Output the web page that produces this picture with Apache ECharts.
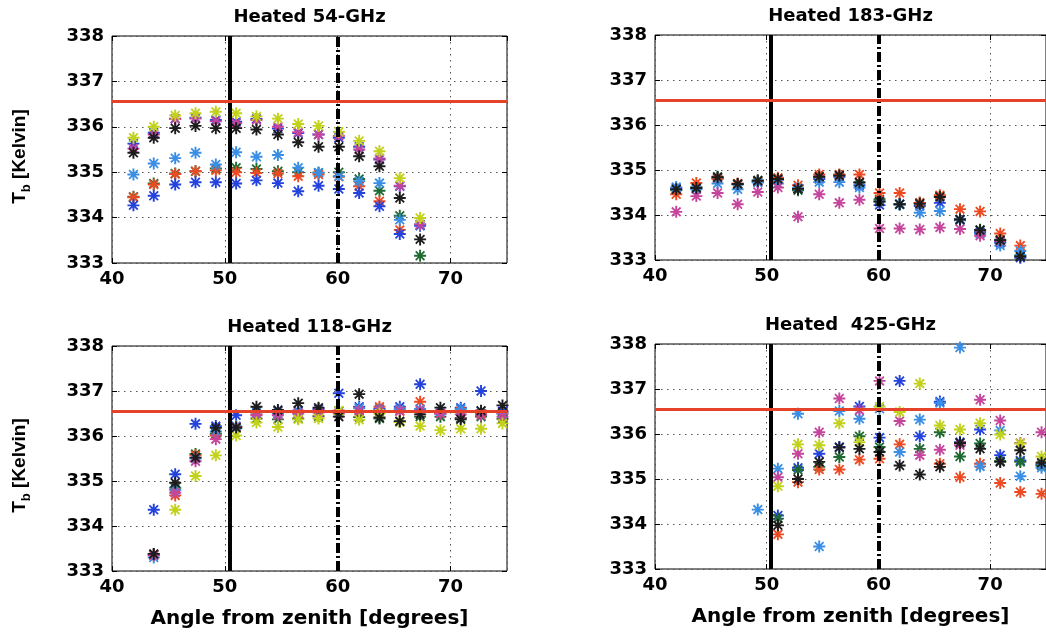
<!DOCTYPE html>
<html><head><meta charset="utf-8">
<script src="https://cdn.jsdelivr.net/npm/echarts@6/dist/echarts.min.js"></script>
<style>html,body{margin:0;padding:0;background:#fff}#c{width:1046px;height:632px}</style>
</head><body><div id="c"></div>
<script>
// ---- data ----
const ANGLES = [41.9,43.7,45.6,47.4,49.2,51.0,52.8,54.7,56.5,58.3,60.1,61.9,63.7,65.5,67.3,69.1,70.9,72.7,74.6];
const TITLES = ['Heated 54-GHz','Heated 183-GHz','Heated 118-GHz','Heated  425-GHz'];
const X_NAME = 'Angle from zenith [degrees]';
const Y_NAME = 'T_b [Kelvin]';
const REF_TB = 336.56;      // horizontal reference line (K)
const SOLID_ANGLE = 50.4;   // solid vertical line (deg)
const DASH_ANGLE = 60;      // dash-dot vertical line (deg)
const _ = null;

// 54 GHz
const b54  = [335.63,335.87,336.18,336.20,336.15,336.11,336.17,335.96,335.86,335.83,335.76,335.56,335.28,334.69,333.82,_,_,_,_];
const g54  = [334.46,334.75,334.97,335.02,335.08,335.10,335.07,335.02,335.00,334.99,335.00,334.85,334.59,334.04,333.16,_,_,_,_];
const r54  = [334.45,334.73,334.96,335.02,335.04,335.00,334.98,334.97,334.91,334.95,334.90,334.69,334.36,333.73,_,_,_,_,_];
const c54  = [334.95,335.19,335.31,335.43,335.17,335.44,335.34,335.38,335.10,334.99,334.91,334.80,334.76,333.95,333.85,_,_,_,_];
const m54  = [335.52,335.83,336.17,336.18,336.12,336.08,336.15,336.00,335.88,335.83,335.80,335.50,335.30,334.70,333.85,_,_,_,_];
const y54  = [335.76,336.00,336.25,336.30,336.33,336.30,336.23,336.18,336.06,336.02,335.89,335.69,335.46,334.87,333.99,_,_,_,_];
const k54  = [335.43,335.76,335.97,336.02,335.97,335.97,335.94,335.83,335.66,335.56,335.56,335.35,335.13,334.43,333.52,_,_,_,_];
const b54b = [334.27,334.48,334.73,334.78,334.78,334.75,334.82,334.76,334.58,334.70,334.63,334.54,334.25,333.64,_,_,_,_,_];

// 183 GHz
const b183 = [334.59,334.59,334.82,334.68,334.74,334.78,334.59,334.80,334.85,334.66,334.22,334.24,334.20,334.27,333.90,333.62,333.38,333.05,_];
const g183 = [334.55,334.62,334.85,334.68,334.77,334.80,334.55,334.85,334.88,334.73,334.35,334.24,334.27,334.42,333.90,333.67,333.45,333.10,_];
const r183 = [334.46,334.71,334.80,334.70,334.75,334.83,334.66,334.90,334.90,334.90,334.49,334.49,334.27,334.44,334.13,334.08,333.59,333.32,_];
const c183 = [334.62,334.57,334.70,334.57,334.72,334.70,334.60,334.73,334.73,334.61,334.30,334.24,334.05,334.09,333.88,333.58,333.32,333.20,_];
const m183 = [334.07,334.42,334.49,334.24,334.51,334.61,333.96,334.46,334.27,334.34,333.70,333.70,333.68,333.72,333.69,333.54,333.42,_,_];
const y183 = [_,_,_,_,_,_,_,_,_,_,_,_,_,_,_,_,_,_,_];
const k183 = [334.57,334.60,334.84,334.69,334.76,334.80,334.58,334.85,334.88,334.72,334.30,334.24,334.25,334.40,333.90,333.66,333.44,333.08,_];
const b183b= [_,_,_,_,_,_,_,_,_,_,_,_,_,_,_,_,_,_,_];

// 118 GHz
const b118 = [_,334.36,335.15,336.27,336.22,336.46,336.55,336.55,336.56,336.60,336.95,336.65,336.60,336.65,337.15,336.50,336.63,337.00,336.55];
const g118 = [_,333.37,334.85,335.60,336.05,336.17,336.39,336.37,336.39,336.44,336.56,336.42,336.39,336.31,336.43,336.43,336.40,336.43,336.38];
const r118 = [_,333.35,334.68,335.57,336.01,336.20,336.48,336.50,336.52,336.55,336.55,336.55,336.65,336.55,336.76,336.50,336.55,336.50,336.50];
const c118 = [_,333.30,334.80,335.50,336.10,336.22,336.52,336.50,336.55,336.55,336.55,336.62,336.58,336.60,336.60,336.55,336.60,336.55,336.50];
const m118 = [_,333.35,334.74,335.44,335.93,336.20,336.46,336.46,336.50,336.52,336.50,336.56,336.56,336.56,336.56,336.50,336.48,336.46,336.43];
const y118 = [_,_,334.36,335.11,335.57,336.01,336.30,336.20,336.37,336.39,336.56,336.36,336.50,336.31,336.22,336.13,336.16,336.16,336.28];
const k118 = [_,333.38,334.96,335.52,336.18,336.19,336.65,336.58,336.73,336.63,336.43,336.93,336.41,336.33,336.48,336.63,336.37,336.56,336.68];
const b118b= [_,_,_,_,_,_,_,_,_,_,_,_,_,_,_,_,_,_,_];

// 425 GHz
const b425 = [_,_,_,_,_,334.19,335.25,335.56,335.71,336.61,335.92,337.18,335.95,336.72,335.82,336.10,335.53,335.41,335.32];
const g425 = [_,_,_,_,_,334.12,335.20,335.27,335.49,335.95,335.71,_,335.67,336.04,335.50,335.79,335.40,335.38,335.30];
const r425 = [_,_,_,_,_,333.77,334.93,335.21,335.21,335.43,335.45,335.77,_,335.34,335.04,335.34,334.91,334.71,334.67];
const c425 = [_,_,_,_,334.32,335.23,336.45,333.50,336.51,336.34,336.56,335.60,336.32,336.69,337.92,335.28,336.08,335.06,335.25];
const m425 = [_,_,_,_,_,335.04,335.56,336.04,336.79,336.53,337.18,336.29,335.53,335.65,335.75,336.76,336.30,335.80,336.04];
const y425 = [_,_,_,_,_,334.84,335.77,335.75,336.24,335.82,336.61,336.49,337.12,336.19,336.10,336.24,335.99,335.79,335.50];
const k425 = [_,_,_,_,_,333.97,335.00,335.38,335.70,335.67,335.60,335.30,335.10,335.27,335.80,335.67,335.38,335.64,335.36];
const b425b= [_,_,_,_,_,_,_,_,_,_,_,_,_,_,_,_,_,_,_];

const PANEL_DATA = [
  [b54,g54,r54,c54,m54,y54,k54,b54b],
  [b183,g183,r183,c183,m183,y183,k183,b183b],
  [b118,g118,r118,c118,m118,y118,k118,b118b],
  [b425,g425,r425,c425,m425,y425,k425,b425b]
];
const SERIES_COLORS = ['#2343dc','#1f6a32','#ee4a22','#3a8ee4','#c6459c','#c2d21a','#1c1c1c','#2343dc'];

// ---- presentation ----
const FONT = 'DejaVu Sans';
const STAR = 'path://M0 8.4H20V11.6H0Z M8.4 0H11.6V20H8.4Z M3.8 1.7L18.3 16.2L16.2 18.3L1.7 3.8Z M16.2 1.7L18.3 3.8L3.8 18.3L1.7 16.2Z';
const GRIDS = [
  {left:112, top:36, width:395, height:227},
  {left:655, top:35, width:392, height:225},
  {left:112, top:346, width:395, height:225},
  {left:655, top:344, width:392, height:225}
];

function pts(vals){ const out=[]; vals.forEach((v,i)=>{ if(v!==null) out.push([ANGLES[i], v]); }); return out; }

const grid=[], xAxis=[], yAxis=[], series=[];
GRIDS.forEach((g,i)=>{
  grid.push(Object.assign({show:true, borderColor:'#000', borderWidth:1, backgroundColor:'#fff'}, g));
  const isBottom = i>=2, isLeft = (i%2===0);
  xAxis.push({
    type:'value', gridIndex:i, min:40, max:75, interval:10, position:'bottom',
    axisLine:{show:false}, axisTick:{show:true, inside:true, length:5, lineStyle:{color:'#000'}},
    axisLabel:{show:true, showMaxLabel:false, margin:7, color:'#000', fontFamily:FONT, fontWeight:'bold', fontSize:18},
    splitLine:{show:true, lineStyle:{color:'#555', type:[1.5,4.5], width:1}},
    name: isBottom ? X_NAME : '', nameLocation:'middle', nameGap:38,
    nameTextStyle:{color:'#000', fontFamily:FONT, fontWeight:'bold', fontSize:20}
  });
  xAxis.push({
    type:'value', gridIndex:i, min:40, max:75, interval:10, position:'top',
    axisLine:{show:false}, axisTick:{show:true, inside:true, length:5, lineStyle:{color:'#000'}},
    axisLabel:{show:false}, splitLine:{show:false},
    name: TITLES[i], nameLocation:'middle', nameGap:10,
    nameTextStyle:{color:'#000', fontFamily:FONT, fontWeight:'bold', fontSize:18, verticalAlign:'bottom'}
  });
  yAxis.push({
    type:'value', gridIndex:i, min:333, max:338, interval:1, position:'left',
    axisLine:{show:false}, axisTick:{show:true, inside:true, length:5, lineStyle:{color:'#000'}},
    axisLabel:{show:true, margin:8, color:'#000', fontFamily:FONT, fontWeight:'bold', fontSize:18},
    splitLine:{show:true, lineStyle:{color:'#555', type:[1.5,4.5], width:1}},
    name: isLeft ? '{t|T}{s|b}{t| [Kelvin]}' : '', nameLocation:'middle', nameGap:79, nameRotate:90,
    nameTextStyle:{color:'#000', padding:[0,14,0,0], rich:{
      t:{fontFamily:'Liberation Sans', fontWeight:'bold', fontSize:19, lineHeight:26, verticalAlign:'middle', color:'#000'},
      s:{fontFamily:'Liberation Sans', fontWeight:'bold', fontSize:13, lineHeight:13, verticalAlign:'bottom', color:'#000'}
    }}
  });
  yAxis.push({
    type:'value', gridIndex:i, min:333, max:338, interval:1, position:'right',
    axisLine:{show:false}, axisTick:{show:true, inside:true, length:5, lineStyle:{color:'#000'}},
    axisLabel:{show:false}, splitLine:{show:false}
  });

  PANEL_DATA[i].forEach((vals,k)=>{
    const s = {
      type:'scatter', xAxisIndex:2*i, yAxisIndex:2*i, data:pts(vals),
      symbol:STAR, symbolSize:12, clip:false, silent:true,
      itemStyle:{color:SERIES_COLORS[k], opacity:1}
    };
    if(k===PANEL_DATA[i].length-1){
      s.markLine = {
        silent:true, symbol:'none', label:{show:false}, animation:false,
        data:[
          {xAxis:SOLID_ANGLE, lineStyle:{color:'#000', width:4, type:'solid'}},
          {xAxis:DASH_ANGLE, lineStyle:{color:'#000', width:4, type:[10,3,2,3]}},
          {yAxis:REF_TB, lineStyle:{color:'#e4432a', width:3, type:'solid'}}
        ]
      };
    }
    series.push(s);
  });
});

const chart = echarts.init(document.getElementById('c'), null, {renderer:'canvas'});
chart.setOption({backgroundColor:'#fff', animation:false, grid, xAxis, yAxis, series});
</script></body></html>
